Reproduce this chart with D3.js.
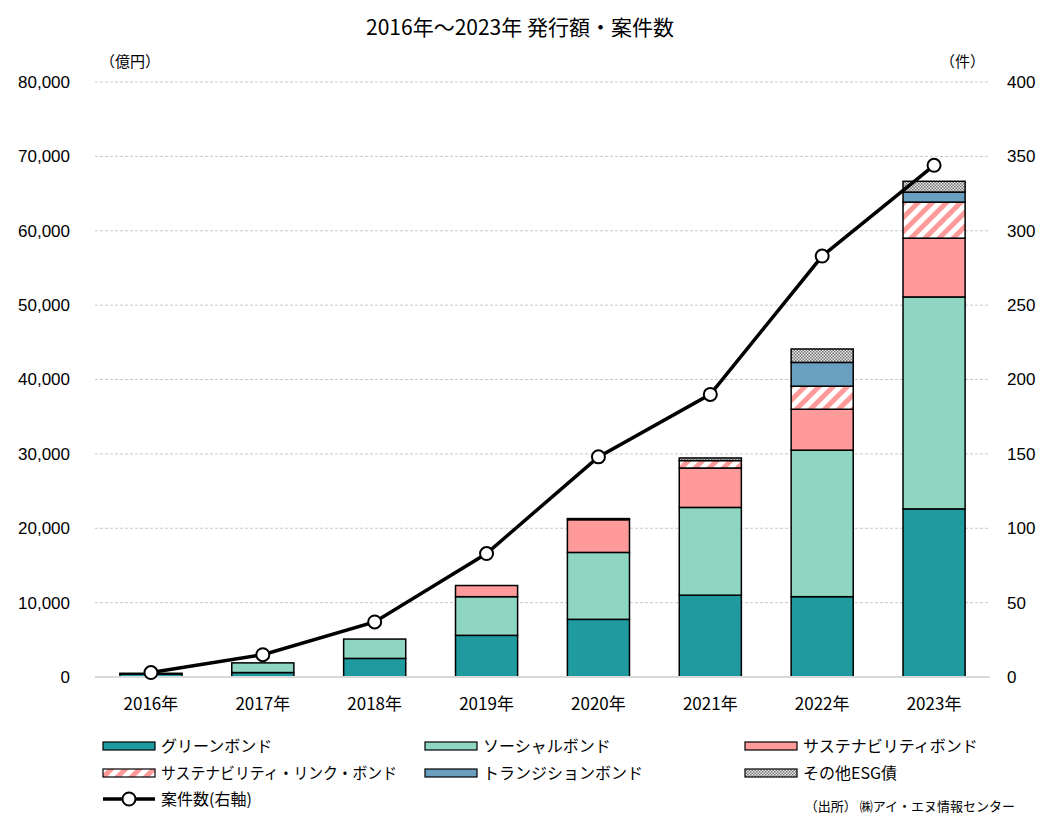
<!DOCTYPE html>
<head>
  <meta charset="utf-8">
  <script src="https://d3js.org/d3.v7.min.js"></script>
  <style>
    body { margin:0; background:#fff; }
    svg { display:block; font-family:"Noto Sans CJK JP", "Noto Sans", sans-serif; }
  </style>
</head>
<body>
  <svg width="1041" height="816"></svg>
  <script>
    // data
    var years = ['2016年', '2017年', '2018年', '2019年', '2020年', '2021年', '2022年', '2023年'];
    var green = [400, 600, 2500, 5600, 7750, 11000, 10800, 22600];
    var social = [100, 1300, 2600, 5200, 9000, 11800, 19700, 28500];
    var sustain = [0, 0, 0, 1500, 4400, 5300, 5500, 7900];
    var sll = [0, 0, 0, 0, 0, 1000, 3100, 4850];
    var transition = [0, 0, 0, 0, 0, 0, 3200, 1350];
    var other = [0, 0, 0, 0, 150, 350, 1800, 1450];
    var counts = [3, 15, 37, 83, 148, 190, 283, 344];
    var leftTicks = [0, 10000, 20000, 30000, 40000, 50000, 60000, 70000, 80000];
    var rightTicks = [0, 50, 100, 150, 200, 250, 300, 350, 400];
    var seriesNames = ['グリーンボンド', 'ソーシャルボンド', 'サステナビリティボンド',
                       'サステナビリティ・リンク・ボンド', 'トランジションボンド', 'その他ESG債'];
    var lineName = '案件数(右軸)';

    var margin = {top: 82, bottom: 139, left: 95, right: 51};
    var width = 1041, height = 816;

    var svg = d3.select('svg');
    var defs = svg.append('defs');

    // hatch for sustainability-linked
    var hatch = defs.append('pattern').attr('id', 'hatch')
      .attr('patternUnits', 'userSpaceOnUse').attr('width', 10).attr('height', 10)
      .attr('patternTransform', 'rotate(45)');
    hatch.append('rect').attr('width', 10).attr('height', 10).attr('fill', '#fff');
    hatch.append('rect').attr('width', 5).attr('height', 10).attr('fill', '#ff9a9a');

    // checker for other
    var check = defs.append('pattern').attr('id', 'check')
      .attr('patternUnits', 'userSpaceOnUse').attr('width', 3).attr('height', 3);
    check.append('rect').attr('width', 3).attr('height', 3).attr('fill', '#e8e8e8');
    check.append('rect').attr('width', 1.5).attr('height', 1.5).attr('fill', '#777');
    check.append('rect').attr('x', 1.5).attr('y', 1.5).attr('width', 1.5).attr('height', 1.5).attr('fill', '#777');

    var fills = ['#1f9ba0', '#8fd6c2', '#ff9a9a', 'url(#hatch)', '#6b9fc0', 'url(#check)'];

    var x = d3.scaleBand().domain(years)
      .range([margin.left, width - margin.right]).paddingInner(0.445).paddingOuter(0.2225);
    var y = d3.scaleLinear().domain([0, 80000]).range([height - margin.bottom, margin.top]);
    var y2 = d3.scaleLinear().domain([0, 400]).range([height - margin.bottom, margin.top]);

    // grid
    svg.append('g').selectAll('line').data(leftTicks.slice(1)).join('line')
      .attr('x1', margin.left).attr('x2', width - margin.right)
      .attr('y1', d => y(d)).attr('y2', d => y(d))
      .attr('stroke', '#c8c8c8').attr('stroke-dasharray', '3,2');

    // axes
    var axL = svg.append('g').attr('transform', 'translate(' + [70, 0] + ')')
      .call(d3.axisLeft(y).tickValues(leftTicks).tickFormat(d3.format(',')).tickSize(0).tickPadding(0));
    var axR = svg.append('g').attr('transform', 'translate(' + [1007, 0] + ')')
      .call(d3.axisRight(y2).tickValues(rightTicks).tickSize(0).tickPadding(0));
    [axL, axR].forEach(a => {
      a.select('.domain').remove();
      a.selectAll('text').attr('font-size', 17).attr('fill', '#000').attr('font-family', null);
    });

    // stacked bars
    var rows = years.map((yr, i) => ({year: yr, s0: green[i], s1: social[i], s2: sustain[i], s3: sll[i], s4: transition[i], s5: other[i]}));
    var stack = d3.stack().keys(['s0', 's1', 's2', 's3', 's4', 's5'])(rows);
    svg.append('g').selectAll('g').data(stack).join('g')
      .attr('fill', (d, i) => fills[i])
      .selectAll('rect').data(d => d.filter(p => p[1] - p[0] > 0)).join('rect')
      .attr('x', d => x(d.data.year))
      .attr('width', x.bandwidth())
      .attr('y', d => y(d[1]))
      .attr('height', d => y(d[0]) - y(d[1]))
      .attr('stroke', '#000').attr('stroke-width', 1.5);

    // baseline
    svg.append('line').attr('x1', margin.left).attr('x2', width - margin.right)
      .attr('y1', y(0)).attr('y2', y(0)).attr('stroke', '#d9d9d9').attr('stroke-width', 2);

    // x labels
    svg.append('g').selectAll('text').data(years).join('text')
      .attr('x', d => x(d) + x.bandwidth() / 2).attr('y', 710)
      .attr('text-anchor', 'middle').attr('font-size', 17).text(d => d);

    // line
    var line = d3.line().x((d, i) => x(years[i]) + x.bandwidth() / 2).y(d => y2(d));
    svg.append('path').attr('d', line(counts)).attr('fill', 'none')
      .attr('stroke', '#000').attr('stroke-width', 3.5);
    svg.append('g').selectAll('circle').data(counts).join('circle')
      .attr('cx', (d, i) => x(years[i]) + x.bandwidth() / 2).attr('cy', d => y2(d))
      .attr('r', 6.5).attr('fill', '#fff').attr('stroke', '#000').attr('stroke-width', 2);

    // title and units
    svg.append('text').attr('x', 520).attr('y', 35).attr('text-anchor', 'middle')
      .attr('font-size', 21).text('2016年～2023年 発行額・案件数');
    svg.append('text').attr('x', 100).attr('y', 67).attr('font-size', 15).text('（億円）');
    svg.append('text').attr('x', 985).attr('y', 67).attr('text-anchor', 'end').attr('font-size', 15).text('（件）');

    // legend
    var legX = [103, 425, 745], legY = [746, 773];
    var leg = svg.append('g');
    seriesNames.forEach((name, i) => {
      var lx = legX[i % 3], ly = legY[Math.floor(i / 3)];
      leg.append('rect').attr('x', lx).attr('y', ly - 4).attr('width', 52).attr('height', 8)
        .attr('fill', fills[i]).attr('stroke', '#000').attr('stroke-width', 1.2);
      var t = leg.append('text').attr('x', lx + 58).attr('y', ly + 6).attr('font-size', 16).text(name);
      if (i === 3) t.attr('textLength', 236).attr('lengthAdjust', 'spacingAndGlyphs');
    });
    leg.append('line').attr('x1', 103).attr('x2', 155).attr('y1', 799).attr('y2', 799)
      .attr('stroke', '#000').attr('stroke-width', 3.5);
    leg.append('circle').attr('cx', 129).attr('cy', 799).attr('r', 6.5)
      .attr('fill', '#fff').attr('stroke', '#000').attr('stroke-width', 2);
    leg.append('text').attr('x', 161).attr('y', 805).attr('font-size', 16).text(lineName);

    svg.append('text').attr('x', 1015).attr('y', 811).attr('text-anchor', 'end')
      .attr('font-size', 13).text('（出所） ㈱アイ・エヌ情報センター');
  </script>
</body>
